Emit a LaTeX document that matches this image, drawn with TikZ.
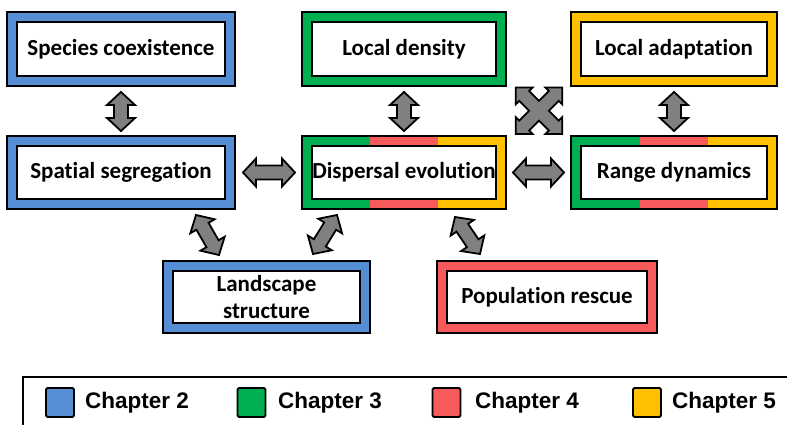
\documentclass[tikz,border=0pt]{standalone}
\usepackage{fontspec}
\setmainfont{Carlito}[Ligatures=NoCommon]
\newfontfamily\legfont{Liberation Sans}
\usetikzlibrary{calc}
\pgfdeclarelayer{bg}
\pgfsetlayers{bg,main}
\definecolor{chb}{HTML}{558ED5}
\definecolor{chg}{HTML}{00B050}
\definecolor{chr}{HTML}{F75A5A}
\definecolor{chy}{HTML}{FFC000}
\definecolor{arrgray}{HTML}{808080}
\tikzset{
  inbox/.style={draw=black, line width=2pt, fill=white, inner sep=0pt,
    font=\bfseries\fontsize{23}{27}\selectfont, align=center},
  frameline/.style={draw=black, line width=2pt},
  blockarrow/.style={draw=black, line width=1.8pt, fill=arrgray, line join=miter},
  legsq/.style={draw=black, line width=1.8pt, rounded corners=1.5pt,
    minimum width=28pt, minimum height=29pt, inner sep=0pt},
  legtext/.style={font=\legfont\bfseries\fontsize{22.5}{26}\selectfont, anchor=west, inner sep=0pt}
}
\newcommand\frameone[2]{%
  \begin{pgfonlayer}{bg}
  \draw[frameline, fill=#2] ([shift={(-9pt,-9pt)}]#1.south west) rectangle ([shift={(9pt,9pt)}]#1.north east);
  \end{pgfonlayer}}
\newcommand\framethree[4]{%
  \begin{pgfonlayer}{bg}
  \coordinate (#1sw) at ([shift={(-9pt,-9pt)}]#1.south west);
  \coordinate (#1ne) at ([shift={(9pt,9pt)}]#1.north east);
  \coordinate (#1p) at ($(#1sw)!1/3!(#1ne)$);
  \coordinate (#1q) at ($(#1sw)!2/3!(#1ne)$);
  \fill[#2] (#1sw) rectangle (#1p |- #1ne);
  \fill[#3] (#1p |- #1sw) rectangle (#1q |- #1ne);
  \fill[#4] (#1q |- #1sw) rectangle (#1ne);
  \draw[frameline] (#1sw) rectangle (#1ne);
  \end{pgfonlayer}}
\newcommand\blockarr[2]{%
  \draw[blockarrow] let \p1=(#1), \p2=(#2),
     \n1={atan2(\y2-\y1,\x2-\x1)}, \n2={veclen(\x2-\x1,\y2-\y1)}, \n3={\n2-13} in
     (\p1) -- ($(\p1)+(\n1:13)+(\n1+90:14)$) -- ($(\p1)+(\n1:13)+(\n1+90:7)$)
     -- ($(\p1)+(\n1:\n3)+(\n1+90:7)$) -- ($(\p1)+(\n1:\n3)+(\n1+90:14)$)
     -- (\p2) -- ($(\p1)+(\n1:\n3)+(\n1-90:14)$) -- ($(\p1)+(\n1:\n3)+(\n1-90:7)$)
     -- ($(\p1)+(\n1:13)+(\n1-90:7)$) -- ($(\p1)+(\n1:13)+(\n1-90:14)$) -- cycle;}
\begin{document}
\begin{tikzpicture}[x=1pt,y=1pt]
\useasboundingbox (0,0) rectangle (787,424);
% boxes
\node[inbox, minimum width=208pt, minimum height=54pt] (spec) at (121,375) {Species coexistence};
\node[inbox, minimum width=184pt, minimum height=54pt] (dens) at (404,375) {Local density};
\node[inbox, minimum width=186pt, minimum height=54pt] (adapt) at (674,375) {Local adaptation};
\node[inbox, minimum width=208pt, minimum height=53pt] (spat) at (121,251.5) {Spatial segregation};
\node[inbox, minimum width=184pt, minimum height=53pt] (disp) at (404,251.5) {Dispersal evolution};
\node[inbox, minimum width=186pt, minimum height=53pt] (range) at (674,251.5) {Range dynamics};
\node[inbox, minimum width=187pt, minimum height=52pt] (land) at (266.5,127) {Landscape\\structure};
\node[inbox, minimum width=200pt, minimum height=52pt] (pop) at (547,127) {Population rescue};
\frameone{spec}{chb}
\frameone{dens}{chg}
\frameone{adapt}{chy}
\frameone{spat}{chb}
\framethree{disp}{chg}{chr}{chy}
\framethree{range}{chg}{chr}{chy}
\frameone{land}{chb}
\frameone{pop}{chr}
% block arrows
\blockarr{$(spec.south)+(0,-15)$}{$(spat.north)+(0,14)$}
\blockarr{$(dens.south)+(0,-15)$}{$(disp.north)+(0,14)$}
\blockarr{$(adapt.south)+(0,-15)$}{$(range.north)+(0,14)$}
\blockarr{$(spat.east)+(17,0)$}{$(disp.west)+(-16,0)$}
\blockarr{$(disp.east)+(16,0)$}{$(range.west)+(-16,0)$}
\blockarr{$(spat.south)+(75,-15)$}{$(land.north)+(-47.5,15)$}
\blockarr{$(disp.south)+(-67,-15)$}{$(land.north)+(46.5,16)$}
\blockarr{$(disp.south)+(51,-17)$}{$(pop.north)+(-67,16)$}
% four-way arrow
\coordinate (cross) at ($(dens)!0.5!(range)$);
\draw[blockarrow, shift={(cross)}, rotate=45]
  (33,0) -- (21,12) -- (21,7) -- (7,7) -- (7,21) -- (12,21) -- (0,33)
  -- (-12,21) -- (-7,21) -- (-7,7) -- (-21,7) -- (-21,12) -- (-33,0)
  -- (-21,-12) -- (-21,-7) -- (-7,-7) -- (-7,-21) -- (-12,-21) -- (0,-33)
  -- (12,-21) -- (7,-21) -- (7,-7) -- (21,-7) -- (21,-12) -- cycle;
% legend
\draw[line width=2pt] (23,-5) -- (23,47) -- (795,47);
\node[legsq, fill=chb] (leg2) at (60,21.5) {};
\node[legsq, fill=chg] (leg3) at (251.5,21.5) {};
\node[legsq, fill=chr] (leg4) at (446.5,21.5) {};
\node[legsq, fill=chy] (leg5) at (647,21.5) {};
\node[legtext] (t2) at (85,21.5) {Chapter 2};
\node[legtext] (t3) at (278,21.5) {Chapter 3};
\node[legtext] (t4) at (475,21.5) {Chapter 4};
\node[legtext] (t5) at (672,21.5) {Chapter 5};
\end{tikzpicture}
\end{document}
